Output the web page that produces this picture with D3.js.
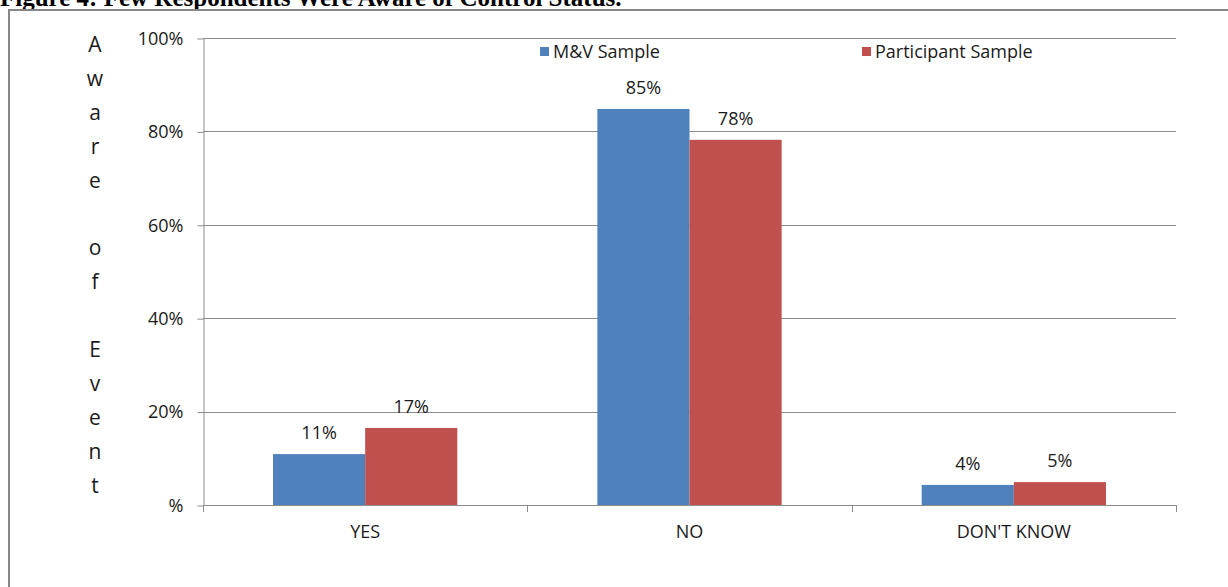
<!DOCTYPE html>
<html>
<head>
<meta charset="utf-8">
<script src="https://cdn.jsdelivr.net/npm/d3@7"></script>
<style>
    body { margin: 0; background: #fff; overflow: hidden; }
    svg text { font-family: "Open Sans", "Liberation Sans", sans-serif; fill: #1a1a1a; }
    .title { font-family: "Liberation Serif", "DejaVu Serif", serif !important; font-weight: bold; fill: #000 !important; }
</style>
</head>
<body>
<svg class="chart"></svg>
<script>
// Data.
var categories = ["YES", "NO", "DON'T KNOW"];
var seriesNames = ["M&V Sample", "Participant Sample"];
var mvSample = [0.109, 0.848, 0.043];
var participantSample = [0.165, 0.782, 0.049];
var yTicks = [0, 0.2, 0.4, 0.6, 0.8, 1];
var yTickLabels = ["%", "20%", "40%", "60%", "80%", "100%"];
var yTitle = "Aware of Event";
var figureTitle = "Figure 4: Few Respondents Were Aware of Control Status.";

var colors = ["#4F81BD", "#C0504D"];

window.onload = function () {

    var width = 1228;
    var height = 587;
    var fontSize = "18px";

    var svg = d3.select("svg.chart")
        .attr("width", width)
        .attr("height", height);

    svg.append("text") // Caption, partly cut off at the top like the reference.
        .attr("class", "title")
        .attr("x", 0)
        .attr("y", 6)
        .style("font-size", "25px")
        .text(figureTitle);

    svg.append("rect") // Chart frame, only top and left edges are visible.
        .attr("x", 9)
        .attr("y", 10)
        .attr("width", 1400)
        .attr("height", 800)
        .attr("fill", "#fff")
        .attr("stroke", "#878787")
        .attr("stroke-width", 2);

    var plot = { left: 203, right: 1176, top: 38, bottom: 505 };

    var y = d3.scaleLinear()
        .domain([0, 1])
        .range([plot.bottom, plot.top]);

    var x0 = d3.scaleBand() // One band per category.
        .domain(categories)
        .range([plot.left, plot.right]);

    var x1 = d3.scaleBand() // Bars inside a category.
        .domain(seriesNames)
        .range([0, x0.bandwidth()])
        .paddingOuter(0.76);

    // gridlines
    svg.append("g")
        .selectAll("line")
        .data(yTicks.slice(1))
        .join("line")
        .attr("x1", plot.left)
        .attr("x2", plot.right)
        .attr("y1", d => Math.round(y(d)) + 0.5)
        .attr("y2", d => Math.round(y(d)) + 0.5)
        .attr("stroke", "#8c8c8c")
        .attr("stroke-width", 1);

    // y axis
    var yAxis = svg.append("g")
        .attr("transform", "translate(" + (plot.left + 0.5) + ",0.5)")
        .call(d3.axisLeft(y)
            .tickValues(yTicks)
            .tickFormat((d, i) => yTickLabels[i])
            .tickSize(6)
            .tickSizeOuter(0)
            .tickPadding(14));
    yAxis.select(".domain").attr("stroke", "#8c8c8c");
    yAxis.selectAll(".tick line").attr("stroke", "#8c8c8c");
    yAxis.selectAll(".tick text").style("font-size", fontSize).attr("fill", "#1a1a1a");

    // x axis
    var boundaries = [plot.left].concat(categories.map(c => x0(c) + x0.bandwidth()));
    var xAxis = svg.append("g");
    xAxis.append("line")
        .attr("x1", plot.left)
        .attr("x2", plot.right + 1)
        .attr("y1", plot.bottom + 0.5)
        .attr("y2", plot.bottom + 0.5)
        .attr("stroke", "#8c8c8c");
    xAxis.selectAll("line.tick")
        .data(boundaries)
        .join("line")
        .attr("class", "tick")
        .attr("x1", d => Math.round(d) + 0.5)
        .attr("x2", d => Math.round(d) + 0.5)
        .attr("y1", plot.bottom)
        .attr("y2", plot.bottom + 7)
        .attr("stroke", "#8c8c8c");
    xAxis.selectAll("text")
        .data(categories)
        .join("text")
        .attr("x", d => x0(d) + x0.bandwidth() / 2)
        .attr("y", plot.bottom + 33)
        .attr("text-anchor", "middle")
        .style("font-size", fontSize)
        .text(d => d);

    // bars
    var rows = categories.map((c, i) => ({
        category: c,
        values: [
            { series: seriesNames[0], value: mvSample[i], color: colors[0] },
            { series: seriesNames[1], value: participantSample[i], color: colors[1] }
        ]
    }));

    var groups = svg.append("g")
        .selectAll("g")
        .data(rows)
        .join("g")
        .attr("transform", d => "translate(" + x0(d.category) + ",0)");

    groups.selectAll("rect")
        .data(d => d.values)
        .join("rect")
        .attr("x", d => x1(d.series))
        .attr("y", d => y(d.value))
        .attr("width", x1.bandwidth())
        .attr("height", d => plot.bottom - y(d.value))
        .attr("fill", d => d.color);

    groups.selectAll("text")
        .data(d => d.values)
        .join("text")
        .attr("x", d => x1(d.series) + x1.bandwidth() / 2)
        .attr("y", d => y(d.value) - 15)
        .attr("text-anchor", "middle")
        .style("font-size", fontSize)
        .text(d => d3.format(".0%")(d.value));

    // legend
    var legendX = [540, 862];
    var legend = svg.append("g")
        .selectAll("g")
        .data(seriesNames)
        .join("g")
        .attr("transform", (d, i) => "translate(" + legendX[i] + ",47)");
    legend.append("rect")
        .attr("width", 9)
        .attr("height", 9)
        .attr("fill", (d, i) => colors[i]);
    legend.append("text")
        .attr("x", 13)
        .attr("y", 11)
        .style("font-size", fontSize)
        .text(d => d);

    // vertical stacked y-axis title, one character per line
    svg.append("text")
        .attr("text-anchor", "middle")
        .style("font-size", "21px")
        .selectAll("tspan")
        .data(yTitle.split(""))
        .join("tspan")
        .attr("x", 95)
        .attr("y", (d, i) => 52 + i * 33.9)
        .text(d => d);
};
</script>
</body>
</html>
